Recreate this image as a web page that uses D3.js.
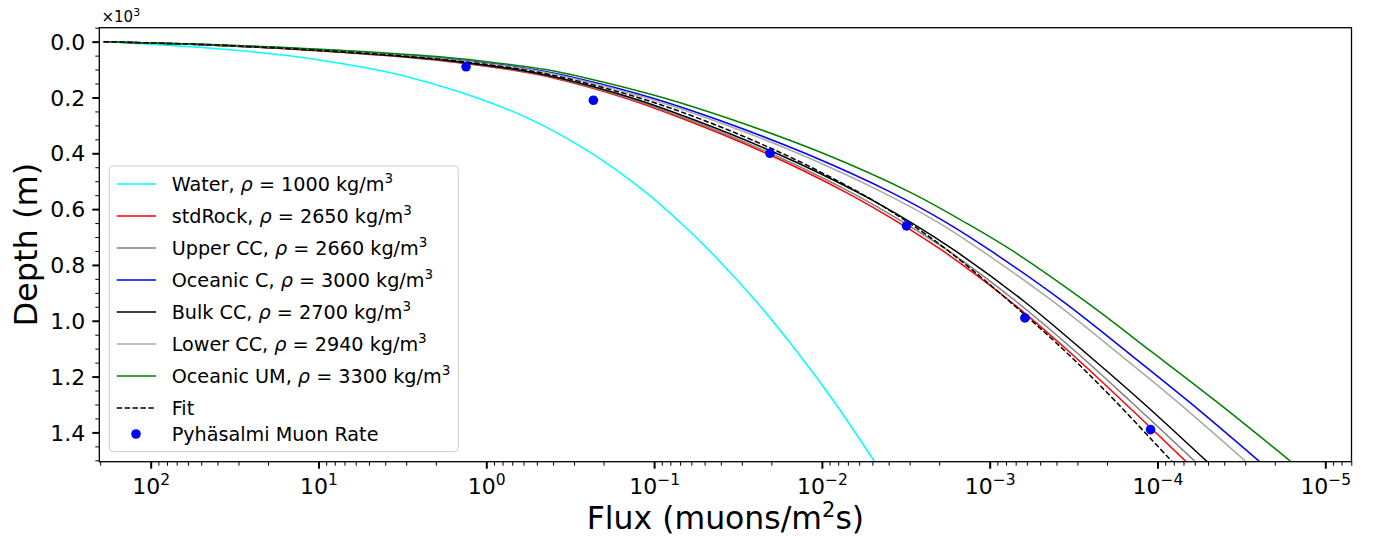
<!DOCTYPE html>
<html>
<head>
<meta charset="utf-8">
<script src="https://cdn.jsdelivr.net/npm/d3@7"></script>
<style>
  body { margin: 0; background: #fff; }
  text { font-family: "DejaVu Sans", sans-serif; }
</style>
</head>
<body>
<svg id="chart" width="1379" height="541"></svg>
<script>
// depth below surface (m), shared by all model curves
var depths = [0, 10, 20, 30, 50, 70, 100, 130, 200, 280, 400, 540, 650, 750, 930, 1110, 1290, 1520];

// muon flux (muons/m^2 s) at each depth
var fluxWater    = [190.5, 95.1, 52.2, 32.2, 15.4, 8.87, 4.60, 2.78, 1.15, 0.538, 0.235, 0.112, 0.0692, 0.0466, 0.0247, 0.0141, 8.45e-3, 4.67e-3];
var fluxStdRock  = [190.5, 53.7, 23.4, 12.0, 3.98, 1.74, 0.733, 0.399, 0.152, 0.0650, 0.0215, 7.19e-3, 3.45e-3, 1.90e-3, 7.55e-4, 3.37e-4, 1.60e-4, 6.35e-5];
var fluxUpperCC  = [190.5, 52.8, 22.9, 11.6, 3.83, 1.67, 0.705, 0.385, 0.146, 0.0619, 0.0203, 6.71e-3, 3.21e-3, 1.76e-3, 6.98e-4, 3.08e-4, 1.44e-4, 5.60e-5];
var fluxOceanicC = [190.5, 46.6, 18.6, 9.04, 2.79, 1.23, 0.518, 0.293, 0.105, 0.0417, 0.0126, 3.87e-3, 1.79e-3, 9.82e-4, 3.68e-4, 1.53e-4, 6.50e-5, 2.30e-5];
var fluxBulkCC   = [190.5, 51.8, 22.1, 11.2, 3.63, 1.59, 0.668, 0.368, 0.138, 0.0579, 0.0187, 6.12e-3, 2.90e-3, 1.60e-3, 6.25e-4, 2.74e-4, 1.24e-4, 4.75e-5];
var fluxLowerCC  = [190.5, 47.9, 19.5, 9.53, 2.98, 1.31, 0.552, 0.310, 0.113, 0.0453, 0.0139, 4.35e-3, 2.00e-3, 1.11e-3, 4.21e-4, 1.77e-4, 7.65e-5, 2.78e-5];
var fluxOceanicUM= [190.5, 43.7, 16.8, 7.94, 2.37, 1.05, 0.442, 0.255, 0.0893, 0.0341, 9.84e-3, 2.97e-3, 1.38e-3, 7.29e-4, 2.70e-4, 1.09e-4, 4.45e-5, 1.49e-5];
var fluxFit      = [190.5, 50.7, 21.3, 10.5, 3.37, 1.45, 0.611, 0.340, 0.125, 0.0515, 0.0173, 6.01e-3, 3.01e-3, 1.76e-3, 7.64e-4, 3.54e-4, 1.77e-4, 7.76e-5];

// Pyhasalmi measured rates
var pointDepths = [90, 210, 400, 660, 990, 1390];
var pointFlux   = [1.32, 0.230, 0.0204, 3.13e-3, 6.17e-4, 1.10e-4];

// tick values
var xMajorTicks = [1e2, 1e1, 1e0, 1e-1, 1e-2, 1e-3, 1e-4, 1e-5];
var xExponents  = ["2", "1", "0", "\u22121", "\u22122", "\u22123", "\u22124", "\u22125"];
var yMajorTicks = [0, 200, 400, 600, 800, 1000, 1200, 1400];

var series = [
  {label: "Water",      rho: "1000", values: fluxWater,     color: "#00ffff"},
  {label: "stdRock",    rho: "2650", values: fluxStdRock,   color: "#ff0000"},
  {label: "Upper CC",   rho: "2660", values: fluxUpperCC,   color: "#808080"},
  {label: "Oceanic C",  rho: "3000", values: fluxOceanicC,  color: "#0000ff"},
  {label: "Bulk CC",    rho: "2700", values: fluxBulkCC,    color: "#000000"},
  {label: "Lower CC",   rho: "2940", values: fluxLowerCC,   color: "#a9a9a9"},
  {label: "Oceanic UM", rho: "3300", values: fluxOceanicUM, color: "#008000"},
  {label: "Fit",        rho: null,   values: fluxFit,       color: "#000000", dash: "5.5,2.4"}
];

var pLeft = 99.3, pRight = 1351.5, pTop = 27.7, pBottom = 461.7;

var svg = d3.select("#chart");

var x = d3.scaleLog().domain([202.4, 6.98e-6]).range([pLeft, pRight]);
var y = d3.scaleLinear().domain([-50, 1505]).range([pTop, pBottom]);

// clip for the curves
svg.append("defs").append("clipPath").attr("id", "plotclip")
   .append("rect").attr("x", pLeft).attr("y", pTop)
   .attr("width", pRight - pLeft).attr("height", pBottom - pTop);

// minor ticks
var xMinor = [];
for (var e = -6; e <= 2; e++) {
  for (var m = 2; m <= 9; m++) {
    var v = m * Math.pow(10, e);
    if (v < 202.4 && v > 6.98e-6) xMinor.push(v);
  }
}
var yMinor = d3.range(-50, 1505, 50).filter(function(v) { return v % 200 !== 0; });

var gxMinor = svg.append("g").attr("transform", "translate(0," + pBottom + ")")
  .call(d3.axisBottom(x).tickValues(xMinor).tickSize(4).tickFormat(""));
var gx = svg.append("g").attr("transform", "translate(0," + pBottom + ")")
  .call(d3.axisBottom(x).tickValues(xMajorTicks).tickSize(7));
var gyMinor = svg.append("g").attr("transform", "translate(" + pLeft + ",0)")
  .call(d3.axisLeft(y).tickValues(yMinor).tickSize(4).tickFormat(""));
var gy = svg.append("g").attr("transform", "translate(" + pLeft + ",0)")
  .call(d3.axisLeft(y).tickValues(yMajorTicks).tickSize(7)
        .tickFormat(function(d) { return (d / 1000).toFixed(1); }));

[gxMinor, gx, gyMinor, gy].forEach(function(g) { g.select(".domain").remove(); });
gxMinor.selectAll(".tick line").attr("stroke", "#000").attr("stroke-width", 1);
gyMinor.selectAll(".tick line").attr("stroke", "#000").attr("stroke-width", 1);
gx.selectAll(".tick line").attr("stroke", "#000").attr("stroke-width", 2);
gy.selectAll(".tick line").attr("stroke", "#000").attr("stroke-width", 2);

gy.selectAll(".tick text")
  .attr("x", -14).attr("dy", "0.35em")
  .attr("font-size", 22).attr("fill", "#000")
  .style("font-family", "DejaVu Sans");

gx.selectAll(".tick text").each(function(d, i) {
  var t = d3.select(this);
  t.text(null).attr("y", 32.5).attr("dy", 0)
   .attr("font-size", 22).attr("fill", "#000")
   .style("font-family", "DejaVu Sans");
  t.append("tspan").text("10");
  t.append("tspan").attr("dy", -9).attr("font-size", 15.5).text(xExponents[i]);
});

// curves
var line = d3.line()
  .x(function(d) { return x(d[1]); })
  .y(function(d) { return y(d[0]); })
  .curve(d3.curveCatmullRom.alpha(0.5));

var curves = svg.append("g").attr("clip-path", "url(#plotclip)");
series.forEach(function(s) {
  curves.append("path")
    .datum(depths.map(function(dp, i) { return [dp, s.values[i]]; }))
    .attr("d", line)
    .attr("fill", "none")
    .attr("stroke", s.color)
    .attr("stroke-width", 1.5)
    .attr("stroke-dasharray", s.dash || null);
});

curves.selectAll("circle.pt")
  .data(pointDepths.map(function(dp, i) { return [dp, pointFlux[i]]; }))
  .enter().append("circle")
  .attr("class", "pt")
  .attr("cx", function(d) { return x(d[1]); })
  .attr("cy", function(d) { return y(d[0]); })
  .attr("r", 4.8)
  .attr("fill", "#0000ff");

// frame
svg.append("rect")
  .attr("x", pLeft).attr("y", pTop)
  .attr("width", pRight - pLeft).attr("height", pBottom - pTop)
  .attr("fill", "none").attr("stroke", "#000").attr("stroke-width", 1.3);

// offset text
var off = svg.append("text").attr("x", 101.5).attr("y", 21.5).attr("font-size", 15);
off.append("tspan").text("\u00d710");
off.append("tspan").attr("dy", -6).attr("font-size", 11).text("3");

// axis labels
var xl = svg.append("text").attr("x", (pLeft + pRight) / 2).attr("y", 529)
  .attr("text-anchor", "middle").attr("font-size", 31.5);
xl.append("tspan").text("Flux (muons/m");
xl.append("tspan").attr("dy", -12).attr("font-size", 21).text("2");
xl.append("tspan").attr("dy", 12).text("s)");

svg.append("text")
  .attr("transform", "translate(37," + ((pTop + pBottom) / 2) + ") rotate(-90)")
  .attr("text-anchor", "middle").attr("font-size", 32)
  .text("Depth (m)");

// legend
var lg = svg.append("g");
lg.append("rect")
  .attr("x", 109.3).attr("y", 166).attr("width", 349).attr("height", 285.7)
  .attr("rx", 4).attr("fill", "#fff").attr("fill-opacity", 0.8)
  .attr("stroke", "#cccccc").attr("stroke-width", 1);

series.forEach(function(s, i) {
  var cy = 184 + i * 32;
  lg.append("line")
    .attr("x1", 116.7).attr("x2", 156).attr("y1", cy).attr("y2", cy)
    .attr("stroke", s.color).attr("stroke-width", 1.5)
    .attr("stroke-dasharray", s.dash || null);
  var t = lg.append("text").attr("x", 171.7).attr("y", cy + 7.3).attr("font-size", 19.2);
  if (s.rho) {
    t.append("tspan").text(s.label + ", ");
    t.append("tspan").attr("font-style", "italic").text("\u03c1");
    t.append("tspan").text(" = " + s.rho + " kg/m");
    t.append("tspan").attr("dy", -8).attr("font-size", 13.5).text("3");
  } else {
    t.text(s.label);
  }
});
lg.append("circle").attr("cx", 136).attr("cy", 434).attr("r", 4.8).attr("fill", "#0000ff");
lg.append("text").attr("x", 171.7).attr("y", 441.3).attr("font-size", 19.2).text("Pyh\u00e4salmi Muon Rate");
</script>
</body>
</html>
